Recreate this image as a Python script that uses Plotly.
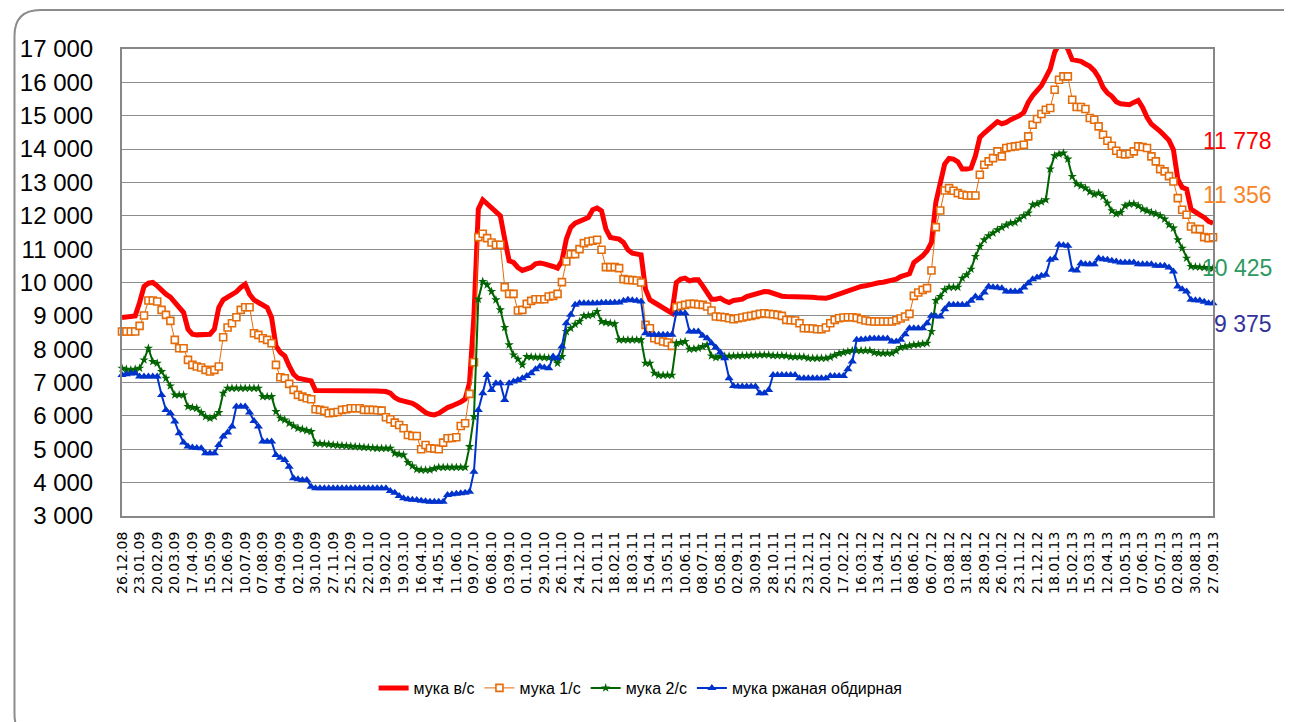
import pandas as pd
import plotly.graph_objects as go

# Weekly dates (categories)
dates = [d.strftime("%d.%m.%y") for d in pd.date_range("2008-12-26", periods=249, freq="7D")]

names = ["мука в/с", "мука 1/с", "мука 2/с", "мука ржаная обдирная"]

flour_top = [
    8950, 8960, 8980, 9000, 9400, 9880, 9980, 10000, 9900, 9750,
    9650, 9560, 9400, 9250, 9100, 8600, 8450, 8430, 8430, 8430,
    8450, 8600, 9250, 9480, 9560, 9650, 9720, 9850, 9950, 9650,
    9480, 9400, 9330, 9250, 8950, 8100, 7900, 7800, 7500, 7250,
    7130, 7100, 7090, 7050, 6760, 6760, 6760, 6760, 6770, 6770,
    6780, 6780, 6780, 6780, 6760, 6750, 6750, 6750, 6750, 6740,
    6730, 6680, 6550, 6480, 6450, 6420, 6380, 6300, 6180, 6100,
    6050, 6030, 6080, 6180, 6250, 6300, 6350, 6420, 6500, 7000,
    9000, 12200, 12480, 12350, 12250, 12100, 12000, 11300, 10650, 10600,
    10450, 10360, 10400, 10450, 10560, 10580, 10560, 10530, 10480, 10430,
    10650, 11300, 11650, 11780, 11850, 11880, 11950, 12180, 12230, 12150,
    11600, 11350, 11320, 11300, 11200, 10980, 10880, 10850, 10830, 9800,
    9480, 9400, 9330, 9250, 9180, 9080, 10000, 10100, 10130, 10050,
    10080, 10080, 9900, 9700, 9500, 9500, 9530, 9450, 9400, 9460,
    9480, 9500, 9580, 9620, 9680, 9710, 9730, 9720, 9680, 9620,
    9590, 9580, 9580, 9580, 9580, 9570, 9580, 9560, 9540, 9530,
    9530, 9560, 9610, 9660, 9700, 9750, 9800, 9850, 9880, 9900,
    9940, 9970, 9990, 10010, 10040, 10070, 10100, 10180, 10230, 10260,
    10600, 10680, 10800, 10950, 11200, 12400, 13000, 13550, 13720, 13700,
    13620, 13400, 13400, 13430, 13800, 14350, 14480, 14580, 14700, 14820,
    14760, 14800, 14880, 14930, 15000, 15100, 15400, 15600, 15780, 15900,
    16150, 16400, 16900, 17150, 17200, 17000, 16680, 16650, 16630, 16550,
    16480, 16350, 16150, 15850, 15680, 15580, 15420, 15360, 15340, 15330,
    15400, 15460, 15250, 14950, 14750, 14650, 14530, 14400, 14260, 13980,
    13100, 12850, 12800, 12200, 12100, 12030, 11950, 11830, 11778,
]

flour_1 = [
    8530, 8530, 8530, 8530, 8700, 9010, 9460, 9460, 9430, 9180,
    9030, 8850, 8280, 8030, 8030, 7680, 7530, 7480, 7450, 7380,
    7330, 7380, 7480, 8360, 8650, 8780, 8960, 9180, 9260, 9260,
    8480, 8430, 8330, 8280, 8180, 7530, 7160, 7130, 6960, 6780,
    6630, 6580, 6530, 6500, 6200, 6180, 6150, 6080, 6100, 6120,
    6180, 6200, 6230, 6230, 6230, 6180, 6180, 6180, 6170, 6160,
    5960, 5900, 5800, 5730, 5630, 5430, 5400, 5400, 5000, 5130,
    5030, 5020, 5000, 5200, 5330, 5340, 5360, 5700, 5780, 6660,
    7610, 11360, 11460, 11330, 11200, 11130, 11130, 9860, 9660, 9660,
    9160, 9180, 9360, 9450, 9500, 9500, 9500, 9580, 9600, 9660,
    10010, 10630, 10850, 10850, 11000, 11180, 11230, 11250, 11280, 10980,
    10460, 10460, 10460, 10430, 10100, 10080, 10070, 10060, 10000, 8730,
    8630, 8330, 8280, 8230, 8200, 8100, 9260, 9300, 9330, 9360,
    9360, 9340, 9330, 9280, 9160, 8980, 8970, 8960, 8930, 8900,
    8930, 8950, 8980, 9000, 9030, 9060, 9080, 9060, 9050, 9030,
    9000, 8880, 8870, 8860, 8780, 8630, 8630, 8620, 8600, 8600,
    8650, 8780, 8880, 8930, 8950, 8960, 8960, 8940, 8900, 8860,
    8840, 8830, 8830, 8830, 8830, 8830, 8870, 8920, 8980, 9060,
    9600, 9700, 9780, 9830, 10360, 11660, 12160, 12760, 12830, 12750,
    12680, 12630, 12610, 12610, 12610, 13230, 13530, 13630, 13730, 13930,
    13780, 14030, 14060, 14080, 14100, 14130, 14380, 14730, 14900, 15050,
    15180, 15230, 15780, 16080, 16180, 16180, 15480, 15260, 15260, 15200,
    14930, 14880, 14680, 14430, 14250, 14100, 13950, 13860, 13840, 13860,
    13930, 14080, 14060, 14030, 13780, 13630, 13400, 13330, 13190, 13030,
    12530, 12180, 12030, 11680, 11600, 11600, 11360, 11330, 11356,
]

flour_2 = [
    7430, 7400, 7380, 7400, 7430, 7680, 8030, 7630, 7580, 7330,
    7130, 6900, 6630, 6630, 6630, 6280, 6250, 6230, 6100, 5980,
    5930, 5980, 6100, 6680, 6830, 6830, 6830, 6830, 6830, 6830,
    6830, 6830, 6580, 6580, 6580, 6130, 5930, 5880, 5780, 5700,
    5630, 5600, 5560, 5530, 5180, 5170, 5160, 5150, 5130, 5120,
    5110, 5100, 5090, 5080, 5070, 5060, 5050, 5040, 5030, 5030,
    5030, 5030, 4880, 4850, 4830, 4600, 4500, 4400, 4380, 4380,
    4380, 4420, 4460, 4460, 4460, 4460, 4460, 4460, 4460, 5080,
    5980, 9500, 10030, 9930, 9730, 9480, 9180, 8650, 8130, 7830,
    7700, 7530, 7780, 7770, 7760, 7760, 7750, 7740, 7730, 7580,
    7780, 8530, 8630, 8750, 8830, 9000, 9010, 9030, 9130, 8830,
    8800, 8780, 8760, 8280, 8280, 8280, 8280, 8280, 8280, 7580,
    7580, 7280, 7220, 7220, 7220, 7220, 8180, 8200, 8230, 8000,
    8010, 8030, 8080, 8130, 7800, 7750, 7780, 7790, 7790, 7800,
    7800, 7810, 7810, 7820, 7820, 7830, 7830, 7830, 7810, 7810,
    7810, 7800, 7770, 7770, 7770, 7770, 7730, 7730, 7730, 7730,
    7730, 7760, 7820, 7870, 7900, 7930, 7960, 7960, 7960, 7960,
    7960, 7900, 7880, 7880, 7880, 7880, 7950, 8050, 8080, 8100,
    8130, 8140, 8160, 8180, 8530, 9460, 9580, 9780, 9860, 9860,
    9860, 10130, 10230, 10400, 10780, 11080, 11280, 11400, 11480, 11580,
    11650, 11720, 11780, 11800, 11900, 12000, 12080, 12330, 12360, 12420,
    12480, 13400, 13800, 13850, 13880, 13700, 13180, 12960, 12900, 12830,
    12720, 12640, 12680, 12580, 12380, 12150, 12060, 12100, 12300, 12350,
    12360, 12300, 12200, 12150, 12100, 12060, 12000, 11900, 11730, 11630,
    11280, 11030, 10730, 10480, 10470, 10460, 10450, 10440, 10425,
]

flour_rye = [
    7230, 7250, 7270, 7280, 7180, 7180, 7180, 7180, 7180, 6630,
    6180, 6080, 5830, 5480, 5200, 5080, 5050, 5040, 5030, 4880,
    4880, 4880, 5130, 5380, 5500, 5680, 6280, 6280, 6280, 6100,
    5850, 5680, 5230, 5230, 5230, 4830, 4750, 4680, 4480, 4130,
    4100, 4080, 4080, 3880, 3830, 3830, 3830, 3830, 3830, 3830,
    3830, 3830, 3830, 3830, 3830, 3830, 3830, 3830, 3830, 3830,
    3830, 3750, 3700, 3600, 3530, 3500, 3490, 3480, 3460, 3440,
    3430, 3430, 3430, 3430, 3630, 3650, 3670, 3680, 3700, 3730,
    4330, 6180, 6680, 7230, 6780, 6980, 6980, 6480, 6980, 7030,
    7080, 7130, 7200, 7280, 7400, 7480, 7450, 7430, 7780, 7730,
    8080, 8780, 9030, 9330, 9380, 9380, 9380, 9380, 9380, 9390,
    9390, 9390, 9400, 9400, 9450, 9480, 9470, 9450, 9430, 8480,
    8430, 8430, 8430, 8430, 8430, 8430, 9080, 9080, 9080, 8530,
    8530, 8530, 8400, 8330, 8180, 8050, 7900, 7730, 7130, 6900,
    6880, 6880, 6880, 6880, 6880, 6680, 6680, 6780, 7230, 7230,
    7230, 7230, 7230, 7230, 7130, 7130, 7130, 7130, 7130, 7130,
    7130, 7200, 7200, 7200, 7200, 7400, 7630, 8280, 8290, 8300,
    8320, 8320, 8320, 8320, 8320, 8230, 8230, 8280, 8450, 8630,
    8630, 8630, 8630, 8780, 9000, 8990, 8980, 9200, 9330, 9330,
    9330, 9330, 9330, 9450, 9580, 9530, 9700, 9880, 9860, 9850,
    9830, 9730, 9730, 9730, 9730, 9850, 9980, 10100, 10150, 10200,
    10230, 10680, 10730, 11130, 11120, 11100, 10380, 10360, 10580, 10550,
    10550, 10550, 10730, 10700, 10680, 10650, 10630, 10600, 10600, 10600,
    10600, 10550, 10550, 10550, 10550, 10500, 10500, 10500, 10450, 10330,
    9880, 9800, 9730, 9480, 9470, 9460, 9420, 9380, 9375,
]

tick_labels = dates[::4]

FONT = "Liberation Sans, Arial, sans-serif"
OFF = 8  # page body margin
W, H = 1292 - OFF, 722 - OFF
# plot area in page pixels: x 117..1213, y 49..516
ML, MT = 117 - OFF, 49 - OFF
MR = W - (1213 - OFF)
MB = H - (516 - OFF)
PW, PH = W - ML - MR, H - MT - MB


def px_x(x):
    """page pixel x -> paper fraction"""
    return (x - OFF - ML) / PW


def px_y(y):
    """page pixel y -> paper fraction"""
    return (H - MB - (y - OFF)) / PH


fig = go.Figure()

fig.add_trace(go.Scatter(
    x=dates, y=flour_top, name=names[0], mode="lines",
    line=dict(color="#FF0000", width=5),
))
fig.add_trace(go.Scatter(
    x=dates, y=flour_1, name=names[1], mode="lines+markers",
    line=dict(color="#E46C0A", width=1),
    marker=dict(symbol="square", size=7, color="white",
                line=dict(color="#E46C0A", width=1.6)),
    cliponaxis=False,
))
fig.add_trace(go.Scatter(
    x=dates, y=flour_2, name=names[2], mode="lines+markers",
    line=dict(color="#006400", width=2),
    marker=dict(symbol="star", size=7, color="#006400"),
    cliponaxis=False,
))
fig.add_trace(go.Scatter(
    x=dates, y=flour_rye, name=names[3], mode="lines+markers",
    line=dict(color="#0033CC", width=2),
    marker=dict(symbol="triangle-up", size=8, color="#0033CC"),
    cliponaxis=False,
))

label_colors = ["#FF0000", "#F7862A", "#2E9960", "#333399"]
label_y = [141, 195, 268, 324]
for series, col, yy in zip([flour_top, flour_1, flour_2, flour_rye], label_colors, label_y):
    fig.add_annotation(
        x=px_x(1274), y=px_y(yy), xref="paper", yref="paper",
        xanchor="right", yanchor="middle", showarrow=False,
        text=f"{series[-1]:,}".replace(",", " "),
        font=dict(family=FONT, size=23, color=col),
    )

# rounded outer border (page pixel coordinates)
x0, y0, x1, y1, r = 9, 10, 1310, 740, 26
path = (
    f"M {px_x(x0 + r)} {px_y(y0)} L {px_x(x1 - r)} {px_y(y0)} "
    f"Q {px_x(x1)} {px_y(y0)} {px_x(x1)} {px_y(y0 + r)} "
    f"L {px_x(x1)} {px_y(y1 - r)} Q {px_x(x1)} {px_y(y1)} {px_x(x1 - r)} {px_y(y1)} "
    f"L {px_x(x0 + r)} {px_y(y1)} Q {px_x(x0)} {px_y(y1)} {px_x(x0)} {px_y(y1 - r)} "
    f"L {px_x(x0)} {px_y(y0 + r)} Q {px_x(x0)} {px_y(y0)} {px_x(x0 + r)} {px_y(y0)} Z"
)
fig.add_shape(type="path", path=path, xref="paper", yref="paper",
              line=dict(color="#8C8C8C", width=2), layer="below")

fig.update_layout(
    width=W, height=H,
    margin=dict(l=ML, r=MR, t=MT, b=MB),
    paper_bgcolor="white", plot_bgcolor="white",
    separators=", ",
    font=dict(family=FONT, color="black"),
    showlegend=True,
    legend=dict(
        orientation="h", x=px_x(638), y=px_y(688),
        xanchor="center", yanchor="middle",
        font=dict(family=FONT, size=16, color="black"),
        itemwidth=30,
    ),
)

fig.update_xaxes(
    type="category", range=[0, 248],
    tickmode="array", tickvals=tick_labels, ticktext=tick_labels,
    tickangle=-90, tickfont=dict(family="DejaVu Sans, sans-serif", size=14, color="black"),
    showgrid=False, showline=True, linecolor="#878787", linewidth=2, mirror=True,
    ticks="", ticklabelstandoff=8, zeroline=False,
)
fig.update_yaxes(
    range=[3000, 17000], dtick=1000, tick0=3000, tickformat=",d",
    tickfont=dict(family=FONT, size=24, color="black"),
    showgrid=True, gridcolor="#8C8C8C", gridwidth=1,
    showline=True, linecolor="#878787", linewidth=2, mirror=True,
    ticks="", ticklabelstandoff=22, zeroline=False,
)

fig.write_html("out.html")
